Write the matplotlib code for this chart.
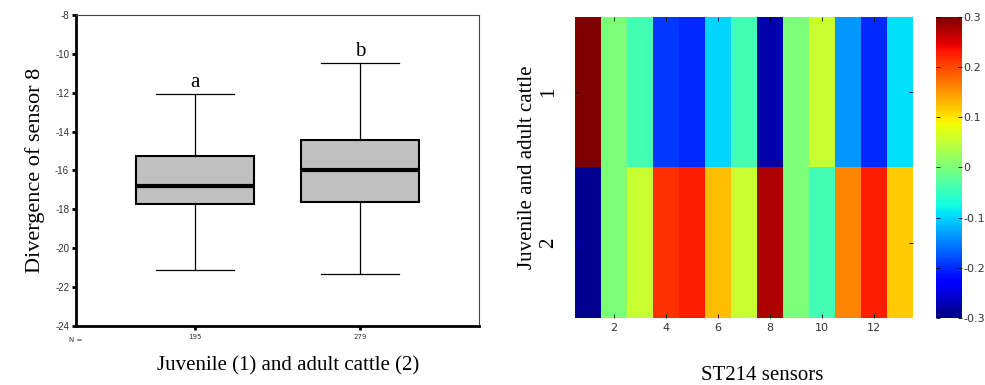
import numpy as np
import matplotlib
matplotlib.use("Agg")
import matplotlib.pyplot as plt

# box plot summary values
groups = [1, 2]
group_n = ["195", "279"]
whisker_low = [-21.1, -21.35]
q1 = [-17.7, -17.6]
medians = [-16.8, -15.95]
q3 = [-15.25, -14.45]
whisker_high = [-12.05, -10.45]
letters = ["a", "b"]

# heatmap: rows = juvenile (1) / adult (2), columns = ST214 sensors 1..13
sensors = list(range(1, 14))
row_juvenile = [0.30, 0.00, -0.04, -0.19, -0.20, -0.10, -0.04, -0.275, 0.00, 0.055, -0.135, -0.20, -0.093]
row_adult = [-0.29, 0.00, 0.055, 0.215, 0.225, 0.125, 0.055, 0.275, 0.00, -0.04, 0.16, 0.225, 0.115]
cbar_ticks = [-0.3, -0.2, -0.1, 0, 0.1, 0.2, 0.3]

fig = plt.figure(figsize=(9.85, 3.85), dpi=100)
serif = "Liberation Serif"

# ---- left: box plot ----
ax = fig.add_axes([0.0772, 0.1532, 0.409, 0.808])
stats = []
for i in range(len(groups)):
    stats.append(dict(med=medians[i], q1=q1[i], q3=q3[i],
                      whislo=whisker_low[i], whishi=whisker_high[i], fliers=[]))
ax.bxp(stats, positions=groups, widths=0.71, capwidths=0.47, patch_artist=True, showfliers=False,
       boxprops=dict(facecolor="#c0c0c0", edgecolor="black", linewidth=1.5),
       medianprops=dict(color="black", linewidth=3),
       whiskerprops=dict(color="black", linewidth=0.9),
       capprops=dict(color="black", linewidth=0.9))
for i, g in enumerate(groups):
    ax.text(g, whisker_high[i] + 0.55, letters[i], ha="center", va="center",
            family=serif, fontsize=15)
ax.set_xlim(0.28, 2.72)
ax.set_ylim(-24, -8)
ax.set_yticks(np.arange(-24, -7, 2))
ax.set_yticklabels([str(v) for v in range(-24, -7, 2)], fontsize=7, family="Liberation Sans", color="#333333")
ax.set_xticks(groups)
ax.set_xticklabels(group_n, fontsize=5, color="#333333")
ax.tick_params(axis="y", length=3, width=2, pad=2)
ax.tick_params(axis="x", length=3, width=2, pad=3)
for side in ["left", "bottom"]:
    ax.spines[side].set_linewidth(2)
for side in ["top", "right"]:
    ax.spines[side].set_linewidth(0.8)
    ax.spines[side].set_color("#444444")
ax.text(0.0, -0.035, "N =", transform=ax.transAxes, fontsize=5, ha="center", va="top", color="#333333")
ax.set_ylabel("Divergence of sensor 8", family=serif, fontsize=16, labelpad=7)
fig.text(0.293, 0.05, "Juvenile (1) and adult cattle (2)", family=serif, fontsize=15, ha="center", va="center")

# ---- right: heatmap ----
hx = fig.add_axes([0.5838, 0.174, 0.343, 0.782])
data = np.array([row_juvenile, row_adult])
im = hx.imshow(data, cmap="jet", vmin=-0.3, vmax=0.3, aspect="auto",
               extent=[0.5, len(sensors) + 0.5, 2.5, 0.5], interpolation="nearest")
hx.set_xticks(range(2, 13, 2))
hx.set_xticklabels([str(v) for v in range(2, 13, 2)], fontsize=8, color="#333333")
hx.set_yticks([1, 2])
hx.set_yticklabels(["1", "2"], family=serif, fontsize=15, rotation=90, va="center")
hx.tick_params(axis="both", direction="in", top=True, right=True, length=3, width=0.6)
hx.tick_params(axis="y", pad=12)
for s in hx.spines.values():
    s.set_visible(False)
hx.set_ylabel("Juvenile and adult cattle", family=serif, fontsize=15, labelpad=2)
fig.text(0.774, 0.025, "ST214 sensors", family=serif, fontsize=15, ha="center", va="center")

cx = fig.add_axes([0.950, 0.174, 0.0264, 0.782])
cb = fig.colorbar(im, cax=cx, ticks=cbar_ticks)
cb.ax.set_yticklabels(["-0.3", "-0.2", "-0.1", "0", "0.1", "0.2", "0.3"], fontsize=8, color="#333333")
cb.ax.tick_params(direction="in", left=True, right=True, length=3, width=0.6, pad=1)
cb.outline.set_visible(False)

fig.savefig("out.png", dpi=100)
